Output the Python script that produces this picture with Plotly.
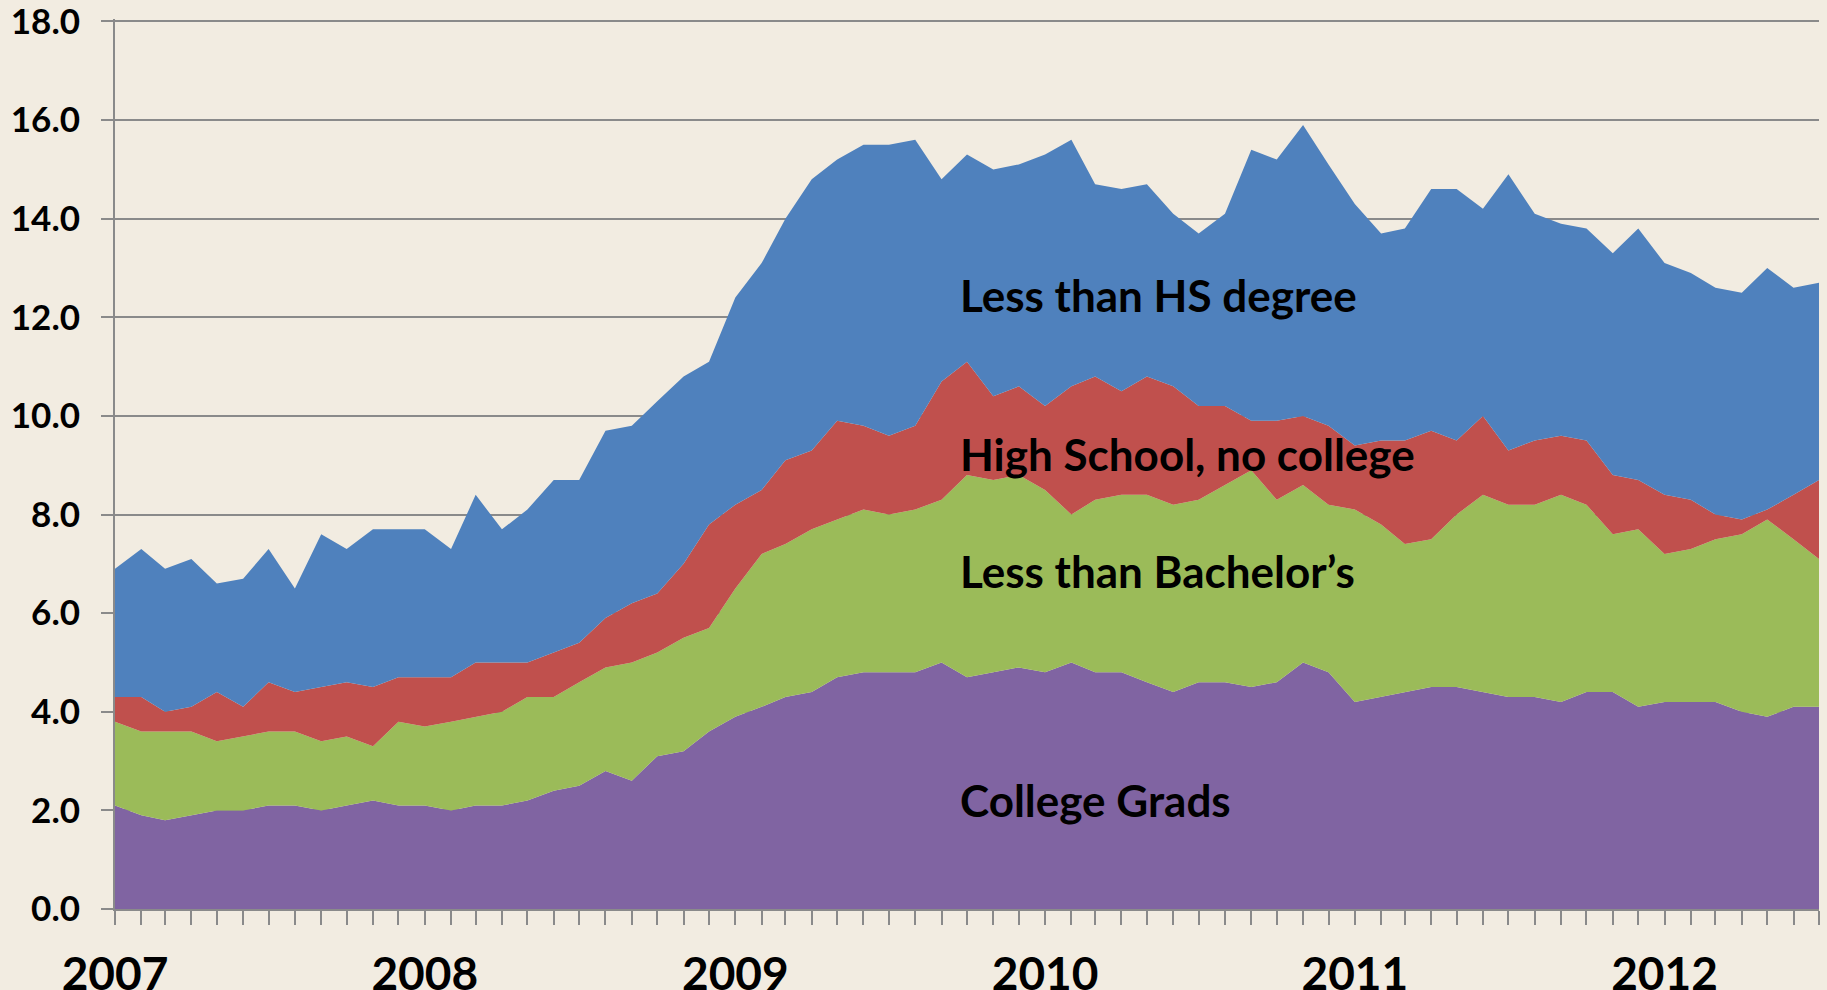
import plotly.graph_objects as go

# Monthly observations, Jan 2007 .. Jul 2012
months = [f"{y}-{m:02d}-01" for y in range(2007, 2013) for m in range(1, 13)][:67]

college_grads = [2.1, 1.9, 1.8, 1.9, 2.0, 2.0, 2.1, 2.1, 2.0, 2.1, 2.2, 2.1,
                 2.1, 2.0, 2.1, 2.1, 2.2, 2.4, 2.5, 2.8, 2.6, 3.1, 3.2, 3.6,
                 3.9, 4.1, 4.3, 4.4, 4.7, 4.8, 4.8, 4.8, 5.0, 4.7, 4.8, 4.9,
                 4.8, 5.0, 4.8, 4.8, 4.6, 4.4, 4.6, 4.6, 4.5, 4.6, 5.0, 4.8,
                 4.2, 4.3, 4.4, 4.5, 4.5, 4.4, 4.3, 4.3, 4.2, 4.4, 4.4, 4.1,
                 4.2, 4.2, 4.2, 4.0, 3.9, 4.1, 4.1]
less_than_bachelors = [1.7, 1.7, 1.8, 1.7, 1.4, 1.5, 1.5, 1.5, 1.4, 1.4, 1.1, 1.7,
                       1.6, 1.8, 1.8, 1.9, 2.1, 1.9, 2.1, 2.1, 2.4, 2.1, 2.3, 2.1,
                       2.6, 3.1, 3.1, 3.3, 3.2, 3.3, 3.2, 3.3, 3.3, 4.1, 3.9, 3.9,
                       3.7, 3.0, 3.5, 3.6, 3.8, 3.8, 3.7, 4.0, 4.4, 3.7, 3.6, 3.4,
                       3.9, 3.5, 3.0, 3.0, 3.5, 4.0, 3.9, 3.9, 4.2, 3.8, 3.2, 3.6,
                       3.0, 3.1, 3.3, 3.6, 4.0, 3.4, 3.0]
high_school = [0.5, 0.7, 0.4, 0.5, 1.0, 0.6, 1.0, 0.8, 1.1, 1.1, 1.2, 0.9,
               1.0, 0.9, 1.1, 1.0, 0.7, 0.9, 0.8, 1.0, 1.2, 1.2, 1.5, 2.1,
               1.7, 1.3, 1.7, 1.6, 2.0, 1.7, 1.6, 1.7, 2.4, 2.3, 1.7, 1.8,
               1.7, 2.6, 2.5, 2.1, 2.4, 2.4, 1.9, 1.6, 1.0, 1.6, 1.4, 1.6,
               1.3, 1.7, 2.1, 2.2, 1.5, 1.6, 1.1, 1.3, 1.2, 1.3, 1.2, 1.0,
               1.2, 1.0, 0.5, 0.3, 0.2, 0.9, 1.6]
less_than_hs = [2.6, 3.0, 2.9, 3.0, 2.2, 2.6, 2.7, 2.1, 3.1, 2.7, 3.2, 3.0,
                3.0, 2.6, 3.4, 2.7, 3.1, 3.5, 3.3, 3.8, 3.6, 3.9, 3.8, 3.3,
                4.2, 4.6, 4.9, 5.5, 5.3, 5.7, 5.9, 5.8, 4.1, 4.2, 4.6, 4.5,
                5.1, 5.0, 3.9, 4.1, 3.9, 3.5, 3.5, 3.9, 5.5, 5.3, 5.9, 5.3,
                4.9, 4.2, 4.3, 4.9, 5.1, 4.2, 5.6, 4.6, 4.3, 4.3, 4.5, 5.1,
                4.7, 4.6, 4.6, 4.6, 4.9, 4.2, 4.0]

series_names = ["College Grads", "Less than Bachelor\u2019s",
                "High School, no college", "Less than HS degree"]
series_values = [college_grads, less_than_bachelors, high_school, less_than_hs]
series_colors = ["#8064A2", "#9BBB59", "#C0504D", "#4F81BD"]

tick_text = [m[:4] if m[5:7] == "01" else "" for m in months]
y_ticks = [0, 2, 4, 6, 8, 10, 12, 14, 16, 18]

FONT = "Lato"
fig = go.Figure()
for name, vals, col in zip(series_names, series_values, series_colors):
    fig.add_trace(go.Scatter(
        x=months, y=vals, name=name, mode="lines",
        stackgroup="one", line=dict(width=0, color=col),
        fillcolor=col, hoverinfo="x+y+name",
    ))

# in-chart labels (text, y-position in data units)
labels = [("Less than HS degree", 12.45), ("High School, no college", 9.22),
          ("Less than Bachelor\u2019s", 6.85), ("College Grads", 2.21)]
for txt, yv in labels:
    fig.add_annotation(x=0.495, xref="paper", y=yv, yref="y", text=f"<b>{txt}</b>",
                       showarrow=False, xanchor="left", yanchor="middle",
                       font=dict(family=FONT, size=44, color="black"))

bg = "#F2ECE1"
fig.update_layout(
    width=1827, height=990, paper_bgcolor=bg, plot_bgcolor=bg,
    margin=dict(l=115, r=8, t=19, b=81, autoexpand=False),
    showlegend=False,
    xaxis=dict(type="date", range=[months[0], months[-1]], automargin=False,
               tickmode="array", tickvals=months, ticktext=tick_text,
               ticks="outside", ticklen=14, tickwidth=1.5, tickcolor="#8A8A8A",
               showline=True, linecolor="#8A8A8A", linewidth=2,
               showgrid=False, zeroline=False, ticklabelstandoff=10,
               ticklabeloverflow="allow",
               tickfont=dict(family=FONT, size=46, color="black", weight="bold")),
    yaxis=dict(range=[0, 18.05], automargin=False,
               tickmode="array", tickvals=y_ticks,
               ticktext=[f"{v:.1f}" for v in y_ticks],
               ticks="outside", ticklen=12, tickwidth=1.5, tickcolor="#8A8A8A",
               showline=True, linecolor="#8A8A8A", linewidth=2,
               showgrid=True, gridcolor="#8A8A8A", gridwidth=1.5,
               zeroline=False, ticklabelstandoff=14,
               ticklabeloverflow="allow",
               tickfont=dict(family=FONT, size=35, color="black", weight="bold")),
)

fig.write_html("out.html", config={"displayModeBar": False})

# remove the default page margin so the figure fills the window exactly
with open("out.html", encoding="utf-8") as f:
    html = f.read()
html = html.replace("<body>", f'<body style="margin:0;background:{bg};overflow:hidden">', 1)
with open("out.html", "w", encoding="utf-8") as f:
    f.write(html)
